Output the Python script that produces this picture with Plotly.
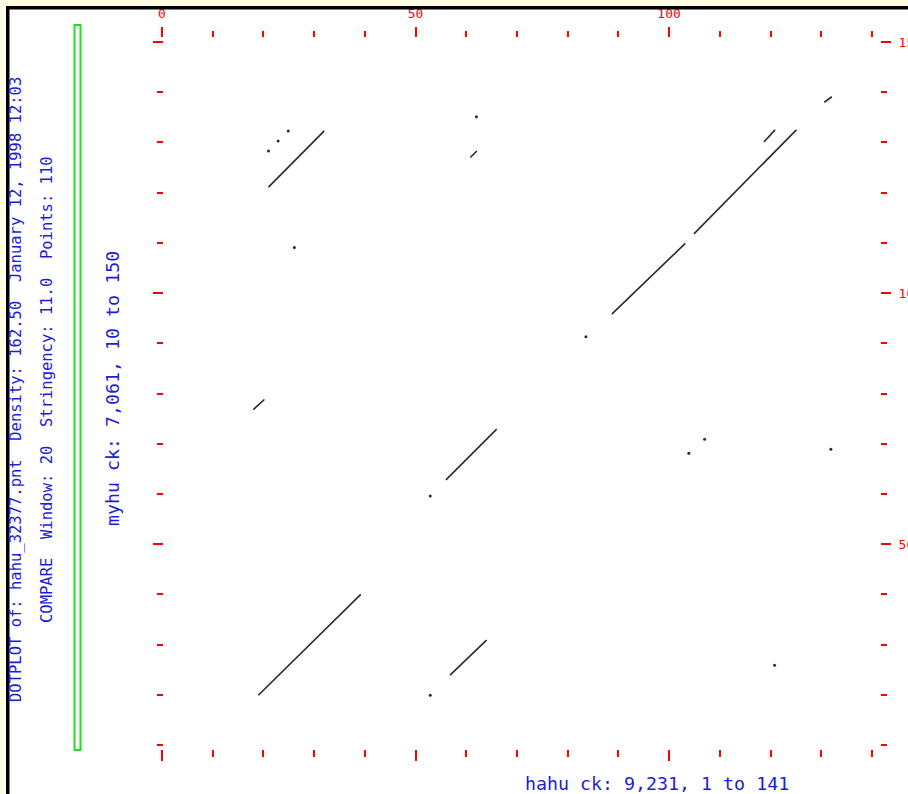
import plotly.graph_objects as go

# ---------------- data ----------------
# diagonal match segments (start x, start y, end x, end y) in sequence coords
seg_x0 = [21.0, 60.8, 88.7, 104.9, 118.7, 130.6, 18.0, 56.0, 19.0, 56.8]
seg_y0 = [121.1, 127.0, 95.8, 111.8, 130.1, 138.0, 76.8, 62.8, 19.9, 23.9]
seg_x1 = [32.0, 62.1, 103.2, 125.1, 120.9, 132.1, 20.2, 66.0, 39.2, 64.0]
seg_y1 = [132.3, 128.3, 109.9, 132.5, 132.5, 139.1, 78.8, 72.9, 40.0, 30.9]

# isolated match points
pt_x = [21.0, 22.9, 24.9, 26.1, 62.0, 83.6, 52.9, 52.9, 107.0, 103.9, 131.9, 120.8]
pt_y = [128.3, 130.3, 132.3, 109.1, 135.1, 91.3, 59.6, 19.9, 70.9, 68.1, 68.9, 25.9]

# axes
x_range = [0, 141]
y_range = [10, 150]
x_major = [0, 50, 100]
x_major_labels = ["0", "50", "100"]
x_minor = [10, 20, 30, 40, 60, 70, 80, 90, 110, 120, 130, 140]
y_major = [50, 100, 150]
y_major_labels = ["50", "100", "150"]
y_minor = [10, 20, 30, 40, 60, 70, 80, 90, 110, 120, 130, 140]

title_line1 = "DOTPLOT of: hahu_32377.pnt  Density: 162.50  January 12, 1998 12:03"
title_line2 = "COMPARE  Window: 20  Stringency: 11.0  Points: 110"
y_title = "myhu ck: 7,061, 10 to 150"
x_title = "hahu ck: 9,231, 1 to 141"

# ---------------- layout helpers ----------------
W, H = 908, 794
def fx(px):
    return px / W
def fy(py):
    return 1 - py / H

RED = "#ff0000"
BLUE = "#1c1cdc"
MONO = "DejaVu Sans Mono"

seg_xs, seg_ys = [], []
for a, b, c, d in zip(seg_x0, seg_y0, seg_x1, seg_y1):
    seg_xs += [a, c, None]
    seg_ys += [b, d, None]

fig = go.Figure()
fig.add_trace(go.Scatter(x=seg_xs, y=seg_ys, mode="lines",
                         line=dict(color="#2a2a2a", width=1.6),
                         hoverinfo="skip", showlegend=False))
fig.add_trace(go.Scatter(x=pt_x, y=pt_y, mode="markers",
                         marker=dict(color="#2a2a2a", size=3),
                         hoverinfo="skip", showlegend=False))

dom_x = [fx(162), fx(877)]
dom_y = [fy(745), fy(42)]

hidden = dict(showline=False, showgrid=False, zeroline=False,
              showticklabels=False, ticks="", automargin=False, fixedrange=True)

def tick_axis(side, pos, major, labels, minor, show_labels, dom, rng, over,
              maj_len=10, min_len=6, standoff=None):
    d = dict(
        overlaying=over, anchor="free", position=pos, side=side,
        domain=dom, range=rng, automargin=False, fixedrange=True,
        showline=False, showgrid=False, zeroline=False,
        tickmode="array", tickvals=major, ticktext=labels,
        showticklabels=show_labels,
        ticks="outside", ticklen=maj_len, tickwidth=2, tickcolor=RED,
        tickfont=dict(color=RED, size=13, family=MONO),
        minor=dict(tickmode="array", tickvals=minor, ticks="outside",
                   ticklen=min_len, tickwidth=2, tickcolor=RED),
    )
    if standoff is not None:
        d["ticklabelstandoff"] = standoff
    return d

layout = dict(
    width=W, height=H, autosize=False,
    margin=dict(l=0, r=0, t=0, b=0),
    paper_bgcolor="white", plot_bgcolor="rgba(0,0,0,0)",
    showlegend=False,
    xaxis=dict(domain=dom_x, range=x_range, **hidden),
    yaxis=dict(domain=dom_y, range=y_range, **hidden),
    xaxis2=tick_axis("top", fy(36.5), x_major, x_major_labels, x_minor, True,
                     dom_x, x_range, "x", 10, 6, 3),
    xaxis3=tick_axis("bottom", fy(749), x_major, x_major_labels, x_minor, False,
                     dom_x, x_range, "x", 11, 7),
    yaxis2=tick_axis("left", fx(163), y_major, y_major_labels, y_minor, False,
                     dom_y, y_range, "y", 10, 6),
    yaxis3=tick_axis("right", fx(880), y_major, y_major_labels, y_minor, True,
                     dom_y, y_range, "y", 10, 6, 5),
)
fig.update_layout(**layout)

# dummy invisible traces so the extra axes render
for xa, ya in [("x2", "y"), ("x3", "y"), ("x", "y2"), ("x", "y3")]:
    fig.add_trace(go.Scatter(x=[None], y=[None], xaxis=xa, yaxis=ya,
                             mode="markers", showlegend=False, hoverinfo="skip"))

shapes = [
    # yellowish outer strips and black frame lines
    dict(type="rect", xref="paper", yref="paper", x0=0, x1=fx(6), y0=0, y1=1,
         fillcolor="#fffde4", line=dict(width=0), layer="below"),
    dict(type="rect", xref="paper", yref="paper", x0=0, x1=1, y0=fy(6), y1=1,
         fillcolor="#fffde4", line=dict(width=0), layer="below"),
    dict(type="rect", xref="paper", yref="paper", x0=fx(6), x1=fx(9.5), y0=0, y1=fy(6),
         fillcolor="black", line=dict(width=0)),
    dict(type="rect", xref="paper", yref="paper", x0=fx(6), x1=1, y0=fy(9.5), y1=fy(6),
         fillcolor="black", line=dict(width=0)),
    # green bar
    dict(type="rect", xref="paper", yref="paper", x0=fx(74.5), x1=fx(80.5),
         y0=fy(750), y1=fy(25), fillcolor="white", line=dict(color="#22dd22", width=2)),
]
fig.update_layout(shapes=shapes)

ann = [
    dict(text=title_line1, x=fx(16), y=fy(390), textangle=-90,
         font=dict(size=15.5, color=BLUE, family=MONO)),
    dict(text=title_line2, x=fx(47), y=fy(390), textangle=-90,
         font=dict(size=15.5, color=BLUE, family=MONO)),
    dict(text=y_title, x=fx(112), y=fy(389), textangle=-90,
         font=dict(size=18.3, color=BLUE, family=MONO)),
    dict(text=x_title, x=fx(657), y=fy(783), textangle=0,
         font=dict(size=18.3, color=BLUE, family=MONO)),
]
for a in ann:
    a.update(xref="paper", yref="paper", showarrow=False,
             xanchor="center", yanchor="middle")
fig.update_layout(annotations=ann)

fig.write_html("out.html",
               config={"displayModeBar": False, "staticPlot": True},
               post_script="document.body.style.margin='0px';document.body.style.overflow='hidden';")
